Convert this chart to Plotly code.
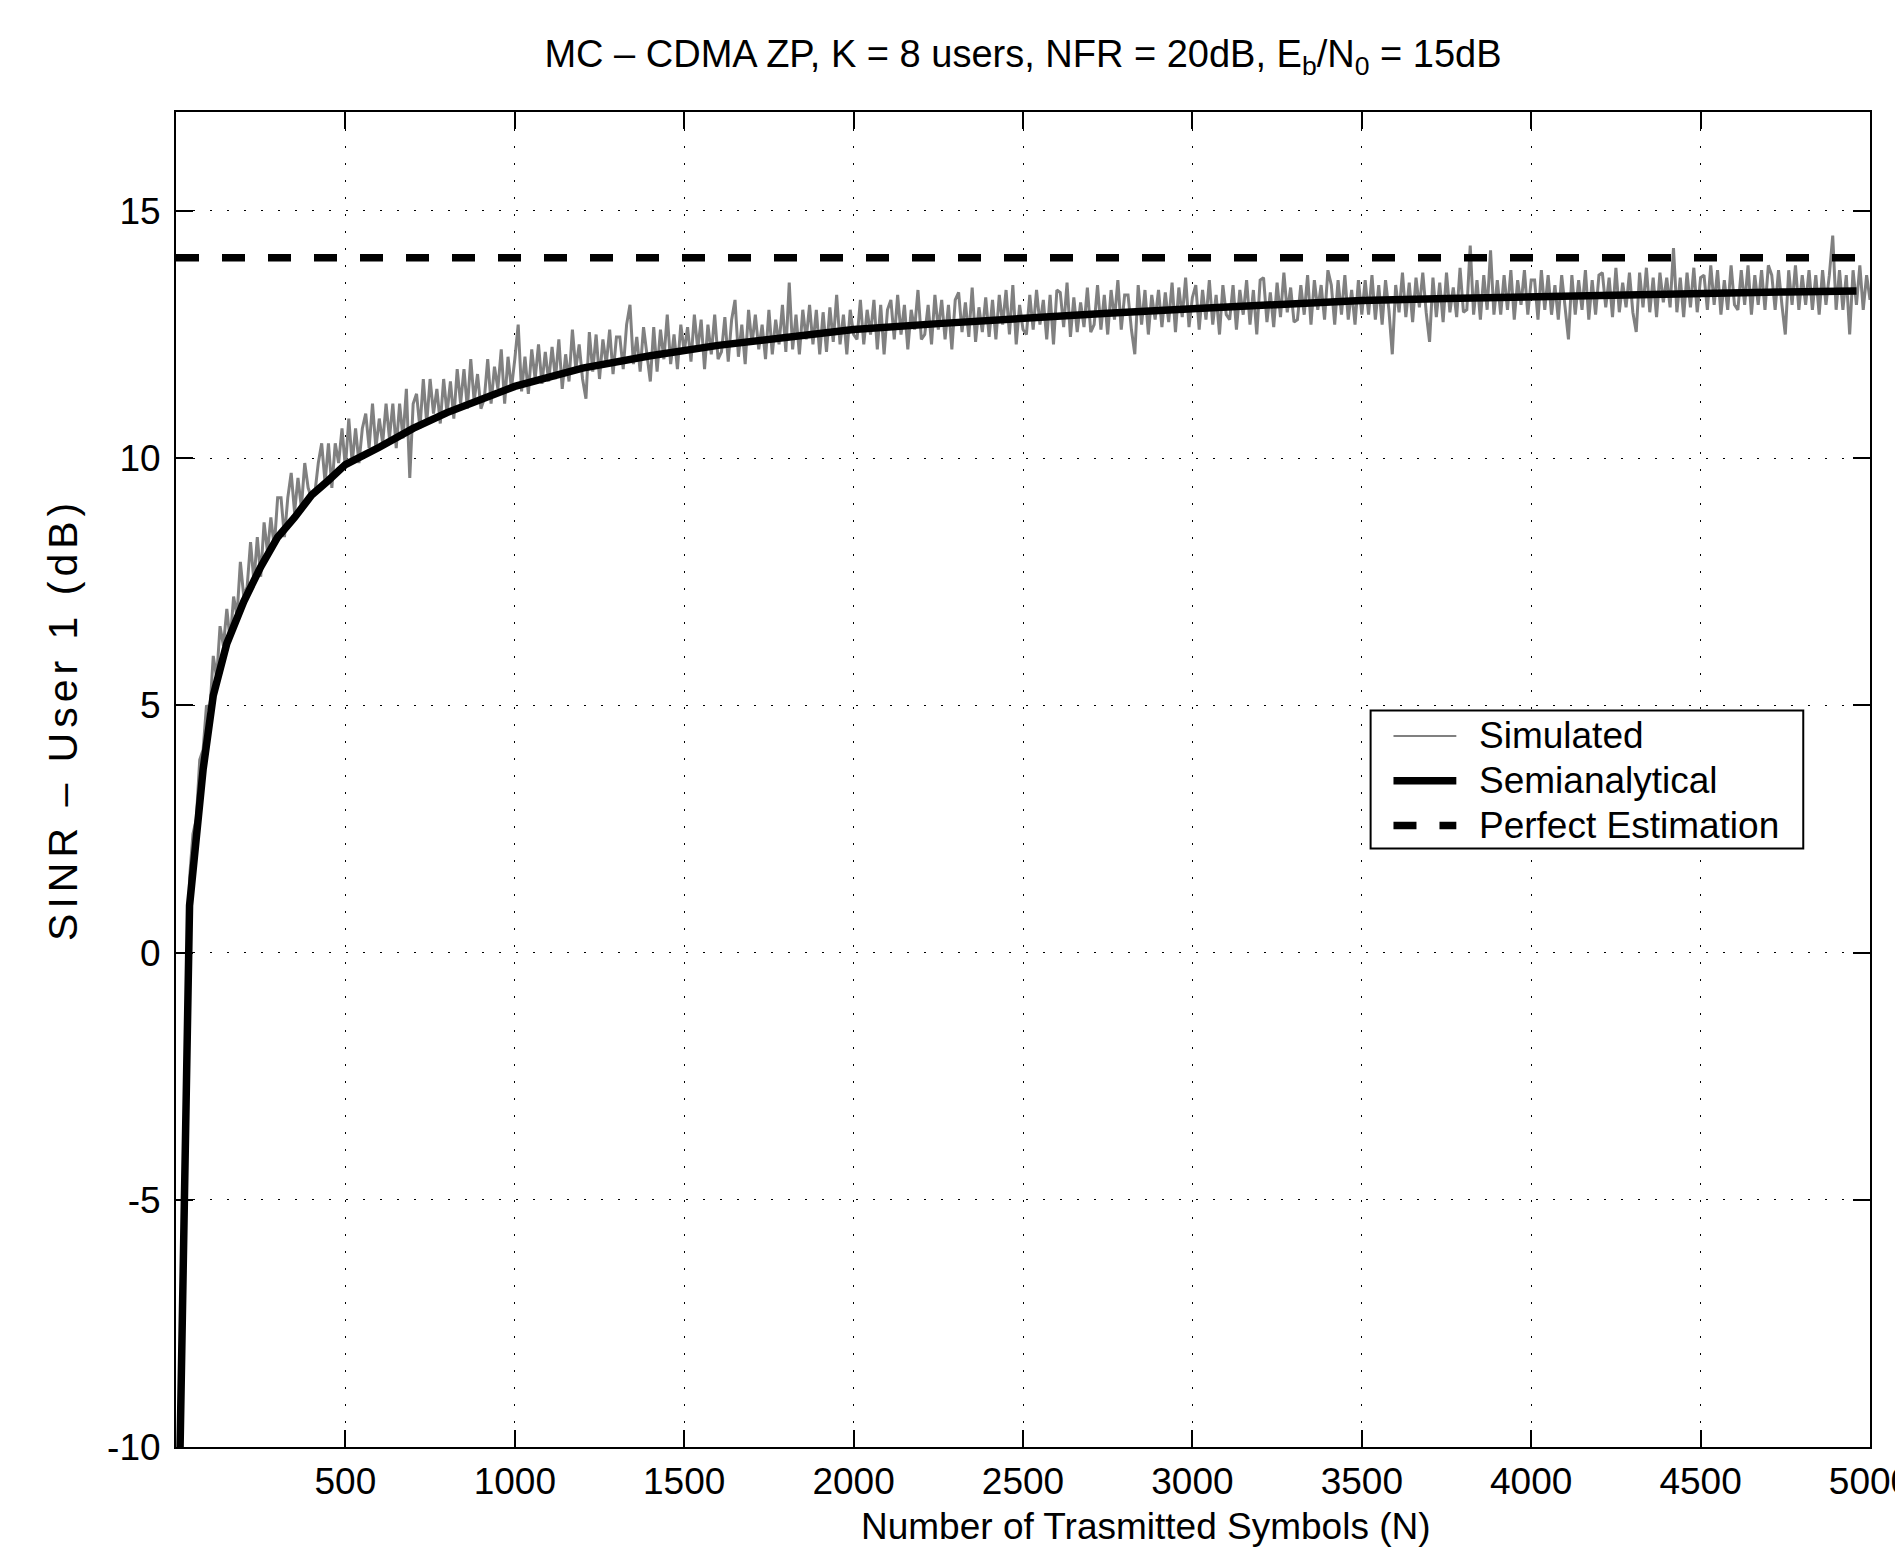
import plotly.graph_objects as go

# ---------------- data ----------------
x_tick_vals = [500, 1000, 1500, 2000, 2500, 3000, 3500, 4000, 4500, 5000]
x_tick_text = ["500", "1000", "1500", "2000", "2500", "3000", "3500", "4000", "4500", "5000"]
y_tick_vals = [-10, -5, 0, 5, 10, 15]
y_tick_text = ["-10", "-5", "0", "5", "10", "15"]

legend_names = ["Simulated", "Semianalytical", "Perfect Estimation"]

sim_N = list(range(10, 5001, 10))
sim_sinr = [
    -10.5, -6.0, -2.2, 1.5, 2.4, 2.7, 3.9, 4.1, 5.0, 4.9,
    6.0, 5.55, 6.6, 6.2, 6.95, 6.3, 7.2, 6.8, 7.9, 7.2,
    7.4, 8.3, 7.5, 8.4, 7.6, 8.7, 8.1, 8.8, 8.2, 9.2,
    9.2, 8.4, 9.2, 9.7, 8.9, 9.6, 9.0, 9.9, 9.4, 9.2,
    9.3, 9.9, 10.3, 9.5, 10.3, 9.4, 10.3, 9.9, 10.6, 9.8,
    10.8, 9.9, 10.6, 9.9, 10.6, 10.9, 10.2, 11.1, 10.2, 10.8,
    10.3, 11.1, 10.4, 11.1, 10.2, 11.1, 10.4, 11.4, 9.6, 11.1,
    11.3, 10.6, 11.6, 10.7, 11.6, 10.9, 11.4, 10.7, 11.6, 10.9,
    11.55, 10.8, 11.8, 11.1, 11.8, 11.0, 12.0, 11.15, 11.7, 11.0,
    11.2, 12.0, 11.1, 11.85, 11.4, 12.2, 11.1, 12.05, 11.4, 12.0,
    12.7, 11.35, 12.05, 11.3, 12.2, 11.6, 12.3, 11.5, 12.15, 11.55,
    12.25, 11.6, 12.4, 11.4, 12.1, 11.55, 12.6, 11.8, 12.3, 11.6,
    11.2, 12.55, 11.75, 12.5, 11.6, 12.4, 11.9, 12.6, 11.7, 12.45,
    12.45, 11.8, 12.7, 13.1, 11.9, 12.45, 11.75, 12.65, 12.05, 11.55,
    12.65, 11.75, 12.6, 12.0, 12.9, 11.9, 12.5, 11.8, 12.7, 12.15,
    12.65, 11.95, 12.9, 12.2, 12.8, 11.8, 12.7, 12.1, 12.9, 12.0,
    12.15, 12.85, 11.95, 12.8, 13.2, 12.05, 12.7, 11.9, 13.0, 12.3,
    12.9, 12.2, 12.7, 12.0, 13.0, 12.1, 12.8, 12.3, 13.1, 12.15,
    13.55, 12.2, 12.9, 12.1, 13.0, 12.4, 13.1, 12.3, 13.0, 12.1,
    12.95, 12.15, 13.05, 12.35, 13.3, 12.3, 12.9, 12.1, 13.0, 12.5,
    12.4, 13.2, 12.3, 13.0, 12.5, 13.2, 12.2, 13.1, 12.1, 13.0,
    13.2, 12.4, 13.3, 12.5, 13.1, 12.2, 13.0, 12.6, 13.4, 12.4,
    12.5, 13.1, 12.3, 13.3, 12.6, 13.2, 12.4, 13.1, 12.2, 13.2,
    13.35, 12.55, 13.15, 12.45, 13.45, 12.35, 13.05, 12.55, 13.25, 12.45,
    13.2, 12.4, 13.3, 12.7, 13.4, 12.5, 13.5, 12.3, 13.1, 12.6,
    12.5, 13.3, 12.6, 13.4, 12.7, 13.2, 12.4, 13.3, 12.3, 13.4,
    13.35, 12.65, 13.55, 12.45, 13.25, 12.55, 13.15, 12.65, 13.45, 12.55,
    12.7, 13.5, 12.6, 13.3, 12.5, 13.4, 12.8, 13.6, 12.6, 13.3,
    13.3, 12.6, 12.1, 13.5, 12.7, 13.4, 12.5, 13.3, 12.8, 13.4,
    12.65, 13.35, 12.75, 13.55, 12.55, 13.45, 12.85, 13.65, 12.65, 13.25,
    13.5, 12.6, 13.4, 12.8, 13.6, 12.7, 13.3, 12.5, 13.5, 12.9,
    12.8, 13.5, 12.6, 13.4, 12.9, 13.6, 12.7, 13.4, 12.5, 13.6,
    13.65, 12.75, 13.35, 12.65, 13.55, 12.85, 13.75, 12.95, 13.45, 12.75,
    12.8, 13.5, 12.9, 13.7, 12.7, 13.6, 13.0, 13.5, 12.8, 13.8,
    13.5, 12.7, 13.6, 12.9, 13.7, 12.8, 13.4, 12.7, 13.6, 12.9,
    13.6, 12.9, 13.7, 12.8, 13.5, 12.7, 13.6, 13.0, 12.1, 13.5,
    12.95, 13.75, 12.85, 13.55, 12.75, 13.65, 13.05, 13.75, 12.95, 12.35,
    13.65, 12.85, 13.55, 12.75, 13.75, 12.95, 13.45, 12.85, 13.85, 12.95,
    13.0, 14.3, 12.9, 13.6, 12.8, 13.7, 13.0, 14.2, 12.9, 13.6,
    12.9, 13.7, 13.0, 13.8, 12.8, 13.6, 13.1, 13.8, 12.9, 13.6,
    13.6, 12.8, 13.8, 13.0, 13.7, 12.9, 13.5, 12.8, 13.7, 13.1,
    12.4, 13.7, 12.9, 13.6, 13.0, 13.8, 12.8, 13.6, 12.9, 13.7,
    13.75, 13.05, 13.65, 12.85, 13.85, 12.95, 13.55, 13.05, 13.75, 12.95,
    12.55, 13.75, 13.05, 13.85, 12.95, 13.65, 12.85, 13.75, 13.15, 13.65,
    13.05, 14.25, 12.95, 13.65, 12.85, 13.75, 13.05, 13.85, 12.95, 13.65,
    13.7, 13.0, 13.9, 13.1, 13.8, 12.9, 13.6, 13.0, 13.9, 13.1,
    13.0, 13.8, 13.1, 13.9, 12.9, 13.7, 13.1, 13.8, 13.0, 13.9,
    13.7, 13.0, 13.8, 13.1, 12.5, 13.8, 13.1, 13.9, 13.0, 13.7,
    13.1, 13.8, 13.0, 13.7, 12.9, 13.8, 13.1, 13.7, 14.5, 13.0,
    13.8, 13.0, 13.7, 12.5, 13.8, 13.1, 13.9, 13.0, 13.7, 13.2,
]

# Semianalytical SINR
sa_N = [10, 40, 80, 110, 150, 200, 250, 300, 350, 400, 450, 500, 600, 700, 800,
        900, 1000, 1200, 1400, 1600, 1800, 2000, 2250, 2500, 2750, 3000, 3250,
        3500, 3750, 4000, 4250, 4500, 4750, 4960]
sa_sinr = [-10.8, 0.95, 3.7, 5.2, 6.25, 7.1, 7.8, 8.4, 8.8, 9.25, 9.55, 9.87, 10.22,
           10.6, 10.92, 11.2, 11.45, 11.82, 12.07, 12.28, 12.45, 12.6, 12.72, 12.84,
           12.93, 13.02, 13.11, 13.19, 13.23, 13.27, 13.31, 13.34, 13.36, 13.38]

# Perfect estimation SINR
pe_N = [0, 5000]
pe_sinr = [14.05, 14.05]

FONT = "Liberation Sans, Arial, Helvetica, sans-serif"
FS = 37

GRAY = dict(color="#808080", width=3)
THICK = dict(color="black", width=7.5)
DASHED = dict(color="black", width=7.5, dash="23px,23px")

fig = go.Figure()
fig.add_trace(go.Scatter(x=sim_N, y=sim_sinr, mode="lines", name=legend_names[0],
                         line=GRAY, showlegend=False))
fig.add_trace(go.Scatter(x=sa_N, y=sa_sinr, mode="lines", name=legend_names[1],
                         line=THICK, showlegend=False))
fig.add_trace(go.Scatter(x=pe_N, y=pe_sinr, mode="lines", name=legend_names[2],
                         line=DASHED, showlegend=False))

axis_common = dict(
    ticks="inside", ticklen=17, tickwidth=1.5, tickcolor="black",
    showline=True, linecolor="black", linewidth=2, mirror="ticks",
    showgrid=True, gridcolor="black", gridwidth=1, griddash="2px,15px",
    zeroline=False, tickfont=dict(family=FONT, size=FS, color="black"),
    ticklabeloverflow="allow", automargin=False,
)

# ---- legend box (MATLAB style), placed in paper coordinates ----
box_x0, box_x1, box_y0, box_y1 = 0.7052, 0.9606, 0.4484, 0.5516
row_y = [0.5326, 0.4990, 0.4655]
samp_x0, samp_x1, text_x = 0.7187, 0.7558, 0.768
row_styles = [dict(color="#808080", width=2), THICK, DASHED]

shapes = [dict(type="rect", xref="paper", yref="paper", x0=box_x0, x1=box_x1,
               y0=box_y0, y1=box_y1, fillcolor="white",
               line=dict(color="black", width=2), layer="above")]
annotations = []
for name, yy, st in zip(legend_names, row_y, row_styles):
    shapes.append(dict(type="line", xref="paper", yref="paper", x0=samp_x0, x1=samp_x1,
                       y0=yy, y1=yy, line=st, layer="above"))
    annotations.append(dict(text=name, xref="paper", yref="paper", x=text_x, y=yy,
                            xanchor="left", yanchor="middle", showarrow=False,
                            font=dict(family=FONT, size=FS, color="black")))

annotations += [
    dict(text="Number of Trasmitted Symbols (N)", xref="paper", yref="paper",
         x=0.5725, y=0, yshift=-79, xanchor="center", yanchor="middle",
         showarrow=False, font=dict(family=FONT, size=FS, color="black")),
    dict(text="<span style='letter-spacing:5px'>SINR \u2013 User 1 (dB)</span>",
         xref="paper", yref="paper",
         x=0, xshift=-113, y=0.5446, xanchor="center", yanchor="middle",
         textangle=-90, showarrow=False,
         font=dict(family=FONT, size=41, color="black")),
]

fig.update_layout(
    width=1895, height=1551,
    margin=dict(l=176, r=25, t=112, b=104, autoexpand=False),
    paper_bgcolor="white", plot_bgcolor="white",
    font=dict(family=FONT, size=FS, color="black"),
    title=dict(
        text="MC \u2013 CDMA ZP, K = 8 users, NFR = 20dB, E<sub>b</sub>/N<sub>0</sub> = 15dB",
        x=0.5, xref="paper", xanchor="center",
        y=1 - 54 / 1551, yref="container", yanchor="middle",
        font=dict(family=FONT, size=38, color="black"),
    ),
    xaxis=dict(range=[0, 5000], tickvals=x_tick_vals, ticktext=x_tick_text,
               ticklabelstandoff=1, **axis_common),
    yaxis=dict(range=[-10, 17], tickvals=y_tick_vals, ticktext=y_tick_text,
               ticklabelstandoff=6, **axis_common),
    showlegend=False,
    shapes=shapes,
    annotations=annotations,
)

fig.write_html("out.html", config={"displayModeBar": False},
               post_script="document.body.style.margin='0';")
